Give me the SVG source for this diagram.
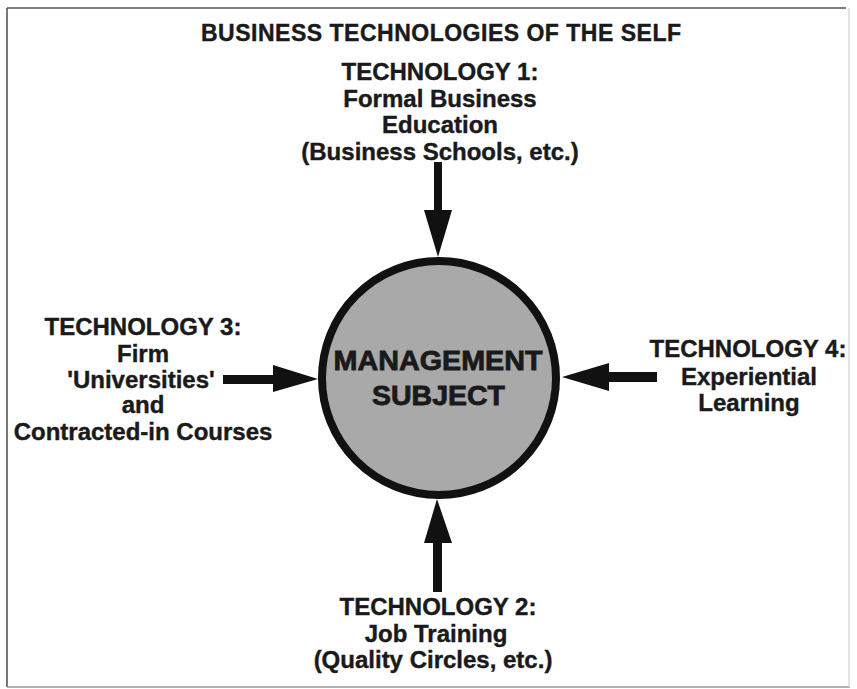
<svg xmlns="http://www.w3.org/2000/svg" width="857" height="689" viewBox="0 0 857 689">
  <style>
    .lbl { font-family: "Liberation Sans", Arial, sans-serif; font-weight: bold; font-size: 24px; fill: #1a1a1a; stroke: #1a1a1a; stroke-width: 0.4; text-anchor: middle; }
    .title { font-family: "Liberation Sans", Arial, sans-serif; font-weight: bold; font-size: 23px; fill: #1a1a1a; stroke: #1a1a1a; stroke-width: 0.4; text-anchor: middle; }
    .core { font-family: "Liberation Sans", Arial, sans-serif; font-weight: bold; font-size: 27px; fill: #1a1a1a; stroke: #1a1a1a; stroke-width: 0.8; text-anchor: middle; }
    .arrow { fill: #111; stroke: none; }
  </style>
  <rect x="0" y="0" width="857" height="689" fill="#ffffff"/>
  <g id="frame" fill="none" stroke="#555" stroke-width="1.6">
    <line x1="7" y1="8" x2="846" y2="8"/>
    <line x1="7" y1="8" x2="7" y2="687"/>
    <line x1="7" y1="687" x2="850" y2="687" stroke="#999"/>
    <line x1="849" y1="8" x2="849" y2="687" stroke="#ddd"/>
  </g>
  <text class="title" x="441" y="41" textLength="480" lengthAdjust="spacing">BUSINESS TECHNOLOGIES OF THE SELF</text>

  <g id="subject">
    <circle cx="439" cy="378" r="117" fill="#a9a9a9" stroke="#111" stroke-width="8"/>
    <text class="core" x="438" y="370" textLength="209" lengthAdjust="spacingAndGlyphs">MANAGEMENT</text>
    <text class="core" x="438.5" y="405" textLength="133" lengthAdjust="spacingAndGlyphs">SUBJECT</text>
  </g>

  <g id="tech1">
    <text class="lbl" x="440" y="80">TECHNOLOGY 1:</text>
    <text class="lbl" x="440" y="107">Formal Business</text>
    <text class="lbl" x="440" y="133">Education</text>
    <text class="lbl" x="440" y="160">(Business Schools, etc.)</text>
  </g>

  <g id="tech3">
    <text class="lbl" x="143" y="335">TECHNOLOGY 3:</text>
    <text class="lbl" x="143" y="362">Firm</text>
    <text class="lbl" x="141" y="388">'Universities'</text>
    <text class="lbl" x="143" y="413">and</text>
    <text class="lbl" x="143" y="440">Contracted-in Courses</text>
  </g>

  <g id="tech4">
    <text class="lbl" x="748" y="357">TECHNOLOGY 4:</text>
    <text class="lbl" x="749" y="385">Experiential</text>
    <text class="lbl" x="749" y="411">Learning</text>
  </g>

  <g id="tech2">
    <text class="lbl" x="438" y="615">TECHNOLOGY 2:</text>
    <text class="lbl" x="436" y="642">Job Training</text>
    <text class="lbl" x="433" y="668">(Quality Circles, etc.)</text>
  </g>

  <g id="connectors">
    <!-- top arrow: Technology 1 to subject -->
    <polygon class="arrow" points="434,162 442,162 442,210 452,210 438,257 424,210 434,210"/>
    <!-- bottom arrow: Technology 2 to subject -->
    <polygon class="arrow" points="433,592 442,592 442,543 452,543 437,499 424,543 433,543"/>
    <!-- left arrow: Technology 3 to subject -->
    <polygon class="arrow" points="223,375 273,375 273,365 318,379 273,392 273,384 223,384"/>
    <!-- right arrow: Technology 4 to subject -->
    <polygon class="arrow" points="657,372 609,372 609,363 562,377 609,391 609,382 657,382"/>
  </g>
</svg>
